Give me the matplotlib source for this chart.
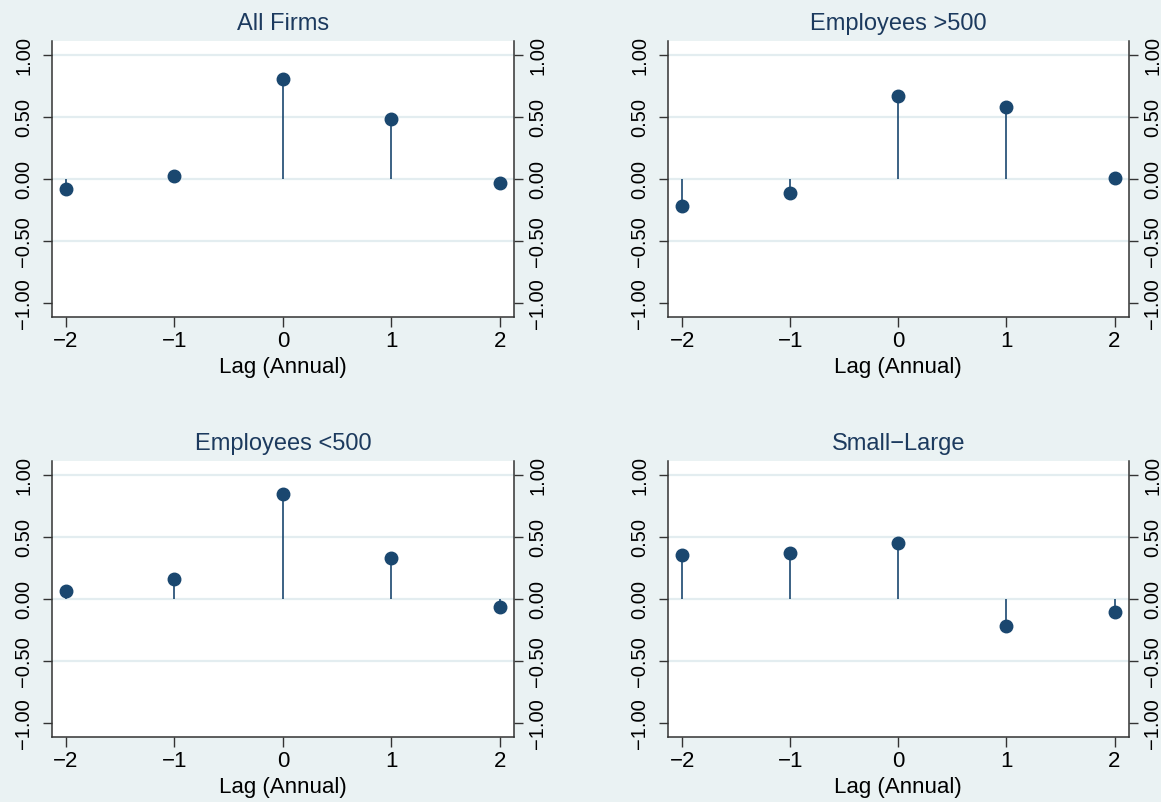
import numpy as np
import matplotlib
matplotlib.use("Agg")
import matplotlib.pyplot as plt

plt.rcParams['font.family'] = ['Liberation Sans', 'DejaVu Sans']

lags = [-2, -1, 0, 1, 2]
titles = ["All Firms", "Employees >500", "Employees <500", "Small\u2212Large"]
all_firms = [-0.075, 0.03, 0.812, 0.489, -0.03]
emp_over_500 = [-0.212, -0.108, 0.669, 0.583, 0.008]
emp_under_500 = [0.07, 0.164, 0.849, 0.333, -0.062]
small_large = [0.358, 0.374, 0.452, -0.215, -0.105]
series = [all_firms, emp_over_500, emp_under_500, small_large]

yticks = [-1.0, -0.5, 0.0, 0.5, 1.0]
ytick_labels = [f"{v:.2f}".replace("-", "\u2212") for v in yticks]
xtick_labels = [str(v).replace("-", "\u2212") for v in lags]

bg = "#eaf2f3"
navy = "#1a476f"
title_col = "#1c3a5e"
spine_col = "#333333"

fig = plt.figure(figsize=(11.61, 8.02), dpi=100, facecolor=bg)

rects = [
    (0.0446, 0.6047, 0.398, 0.3441),
    (0.5754, 0.6047, 0.3967, 0.3441),
    (0.0446, 0.0810, 0.398, 0.3441),
    (0.5754, 0.0810, 0.3967, 0.3441),
]

for rect, title, vals in zip(rects, titles, series):
    ax = fig.add_axes(rect)
    ax.set_facecolor("white")
    ax.set_xlim(-2.13, 2.13)
    ax.set_ylim(-1.11, 1.115)

    # light horizontal grid
    for g in [-0.5, 0.0, 0.5, 1.0]:
        ax.axhline(g, color="#e3edf0", lw=1.6, zorder=0)

    ax.vlines(lags, 0, vals, color=navy, lw=1.2, zorder=2)
    ax.plot(lags, vals, "o", color=navy, markersize=9, zorder=3)

    ax.set_xticks(lags)
    ax.set_xticklabels(xtick_labels, fontsize=16)
    ax.set_yticks(yticks)
    ax.set_yticklabels(ytick_labels, fontsize=14.5, rotation=90, va="center")
    ax.tick_params(axis="x", length=7, width=1, color=spine_col, pad=3)
    ax.tick_params(axis="y", length=6.5, width=1, color=spine_col, pad=7)
    ax.set_xlabel("Lag (Annual)", fontsize=16, labelpad=4)
    ax.set_title(title, fontsize=17, color=title_col, pad=8)

    for side in ["top", "right"]:
        ax.spines[side].set_visible(False)
    for side in ["left", "bottom"]:
        ax.spines[side].set_color(spine_col)
        ax.spines[side].set_linewidth(1.1)

    ax2 = ax.twinx()
    ax2.set_ylim(ax.get_ylim())
    ax2.set_yticks(yticks)
    ax2.set_yticklabels(ytick_labels, fontsize=14.5, rotation=90, va="center")
    ax2.tick_params(axis="y", length=6.5, width=1, color=spine_col, pad=4)
    for side in ["top", "left", "bottom"]:
        ax2.spines[side].set_visible(False)
    ax2.spines["right"].set_color(spine_col)
    ax2.spines["right"].set_linewidth(1.1)

fig.savefig("out.png", dpi=100, facecolor=bg)
